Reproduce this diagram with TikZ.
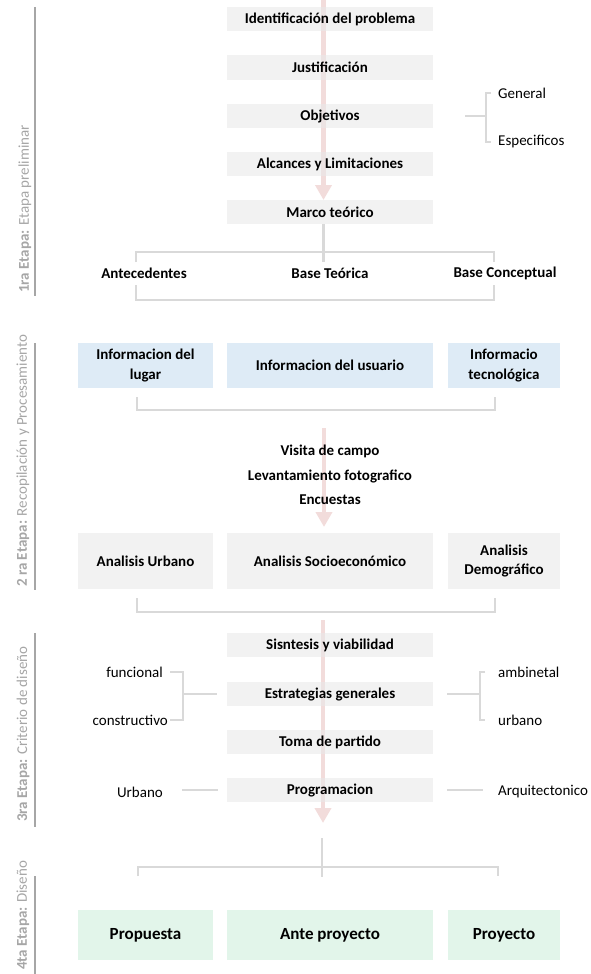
\documentclass[tikz,border=0pt]{standalone}
\usepackage{fontspec}
\setmainfont{Carlito}
\usepackage{xcolor}
\definecolor{e9e9e9}{HTML}{E9E9E9}
\definecolor{deebf6}{HTML}{DEEBF6}
\definecolor{e2f5ea}{HTML}{E2F5EA}
\definecolor{d9d9d9}{HTML}{D9D9D9}
\definecolor{a6a6a6}{HTML}{A6A6A6}
\definecolor{f2dcdb}{HTML}{F2DCDB}
\usepackage{tikz}
\usetikzlibrary{arrows.meta}

\begin{document}
\begin{tikzpicture}[x=1pt, y=-1pt,
    caja/.style={shape=rectangle, fill=e9e9e9, fill opacity=.6, text opacity=1, inner sep=0pt, align=center, font=\fontsize{15}{19.5}\selectfont\bfseries, minimum width=206pt, minimum height=24pt},
    lateral/.style={caja, minimum width=135pt},
    derecha/.style={caja, minimum width=112pt},
    azul/.style={fill=deebf6, fill opacity=1},
    verde/.style={fill=e2f5ea, fill opacity=1, minimum height=50pt, font=\fontsize{17}{20}\selectfont\bfseries},
    titulo/.style={inner sep=0pt, font=\fontsize{15}{18}\selectfont\bfseries},
    rama/.style={inner sep=0pt, font=\fontsize{15}{18}\selectfont},
    etapa/.style={inner sep=0pt, rotate=90, anchor=west, text=a6a6a6, font=\fontsize{15}{18}\selectfont},
    lado/.style={draw=a6a6a6, line width=1.5pt},
    linea/.style={draw=d9d9d9, line width=2.2pt},
    flecha/.style={draw=f2dcdb, line width=4.5pt, -{Triangle[width=16pt, length=15pt]}}]
    \useasboundingbox (0,0) rectangle (591,974);

    \coordinate (f1a) at (323.5,0);
    \coordinate (f1b) at (323.5,200);
    \coordinate (f2a) at (324,428);
    \coordinate (f2b) at (324,527);
    \coordinate (f3a) at (323,620);
    \coordinate (f3b) at (323,823);
    \draw[flecha] (f1a) -- (f1b);
    \draw[flecha] (f2a) -- (f2b);
    \draw[flecha] (f3a) -- (f3b);

    \node[caja] (ident)  at (330,19)   {Identificación del problema};
    \node[caja] (justif) at (330,67.5) {Justificación};
    \node[caja] (objet)  at (330,116)  {Objetivos};
    \node[caja] (alcan)  at (330,164)  {Alcances y Limitaciones};
    \node[caja] (marco)  at (330,212)  {Marco teórico};
    \node[rama, anchor=west] (gen) at (498,93)  {General};
    \node[rama, anchor=west] (esp) at (498,142) {Especificos};
    \node[titulo] (antec) at (144,273) {Antecedentes};
    \node[titulo] (baset) at (330,273) {Base Teórica};
    \node[titulo] (basec) at (505,273) {Base Conceptual};

    \node[lateral, azul, minimum height=45pt] (infl) at (145.5,365.5) {Informacion del\\lugar};
    \node[caja, azul, minimum height=45pt]    (infu) at (330,365.5)   {Informacion del usuario};
    \node[derecha, azul, minimum height=45pt] (inft) at (504,365.5)   {Informacio\\tecnológica};
    \node[titulo] (visita) at (330,451) {Visita de campo};
    \node[titulo] (levant) at (330,476) {Levantamiento fotografico};
    \node[titulo] (encues) at (330,500) {Encuestas};
    \node[lateral, minimum height=56pt] (anu) at (145.5,561) {Analisis Urbano};
    \node[caja, minimum height=56pt]    (ans) at (330,561)   {Analisis Socioeconómico};
    \node[derecha, minimum height=56pt] (and) at (504,561)   {Analisis\\Demográfico};

    \node[caja] (sint) at (330,645) {Sisntesis y viabilidad};
    \node[caja] (estr) at (330,694) {Estrategias generales};
    \node[caja] (toma) at (330,742) {Toma de partido};
    \node[caja] (prog) at (330,790) {Programacion};
    \node[rama, anchor=east] (func) at (163,672) {funcional};
    \node[rama, anchor=east] (cons) at (168,720) {constructivo};
    \node[rama, anchor=west] (amb)  at (498,672) {ambinetal};
    \node[rama, anchor=west] (urbr) at (498,720) {urbano};
    \node[rama, anchor=east] (urbl) at (163,792) {Urbano};
    \node[rama, anchor=west] (arq)  at (498,792) {Arquitectonico};

    \node[lateral, verde] (prop) at (145.5,935) {Propuesta};
    \node[caja, verde]    (ante) at (330,935)   {Ante proyecto};
    \node[derecha, verde] (proy) at (504,935)   {Proyecto};

    \draw[linea] ([xshift=32pt]objet.east) -- ++(21,0);
    \draw[linea] ([xshift=-7pt]gen.west) -- ++(-5,0) |- ([xshift=-7pt]esp.west);
    \draw[linea] (marco.south -| f1a) -- ++(0,38);
    \coordinate (c1i) at (136,262);
    \coordinate (c1d) at (494,262);
    \coordinate (c2i) at (136,285);
    \coordinate (c2d) at (494,285);
    \draw[linea] (c1i) -- ++(0,-10) -| (c1d);
    \draw[linea] (c2i) -- ++(0,15) -| (c2d);

    \coordinate (c3i) at (137,397);
    \coordinate (c3d) at (495,397);
    \coordinate (c4i) at (137,598);
    \coordinate (c4d) at (495,598);
    \draw[linea] (c3i) -- ++(0,13) -| (c3d);
    \draw[linea] (c4i) -- ++(0,14) -| (c4d);

    \draw[linea] ([xshift=7pt]func.east) -| ([xshift=15pt]cons.east) -- ([xshift=2pt]cons.east);
    \draw[linea] ([xshift=-10pt]estr.west) -- ++(-34,0);
    \draw[linea] ([xshift=14pt]estr.east) -- ++(33,0);
    \draw[linea] ([xshift=-13pt]amb.west) -- ++(-5,0) |- ([xshift=-13pt]urbr.west);
    \draw[linea] ([xshift=-9pt]prog.west) -- ++(-36,0);
    \draw[linea] ([xshift=14pt]prog.east) -- ++(36,0);

    \coordinate (c5)  at (322,838);
    \coordinate (c6i) at (138,876);
    \coordinate (c6d) at (498,876);
    \draw[linea] (c5) -- ++(0,39);
    \draw[linea] (c6i) -- ++(0,-9) -| (c6d);

    \draw[lado] (35,7) -- (35,296);
    \draw[lado] (35,343) -- (35,590);
    \draw[lado] (35,633) -- (35,827);
    \draw[lado] (35,876) -- (35,974);
    \node[etapa] (et1) at (25,293) {\textbf{1ra Etapa:} Etapa preliminar};
    \node[etapa] (et2) at (23,587) {\textbf{2 ra Etapa:} Recopilación y Procesamiento};
    \node[etapa] (et3) at (23,822) {\textbf{3ra Etapa:} Criterio de diseño};
    \node[etapa] (et4) at (23,970) {\textbf{4ta Etapa:} Diseño};
\end{tikzpicture}
\end{document}
